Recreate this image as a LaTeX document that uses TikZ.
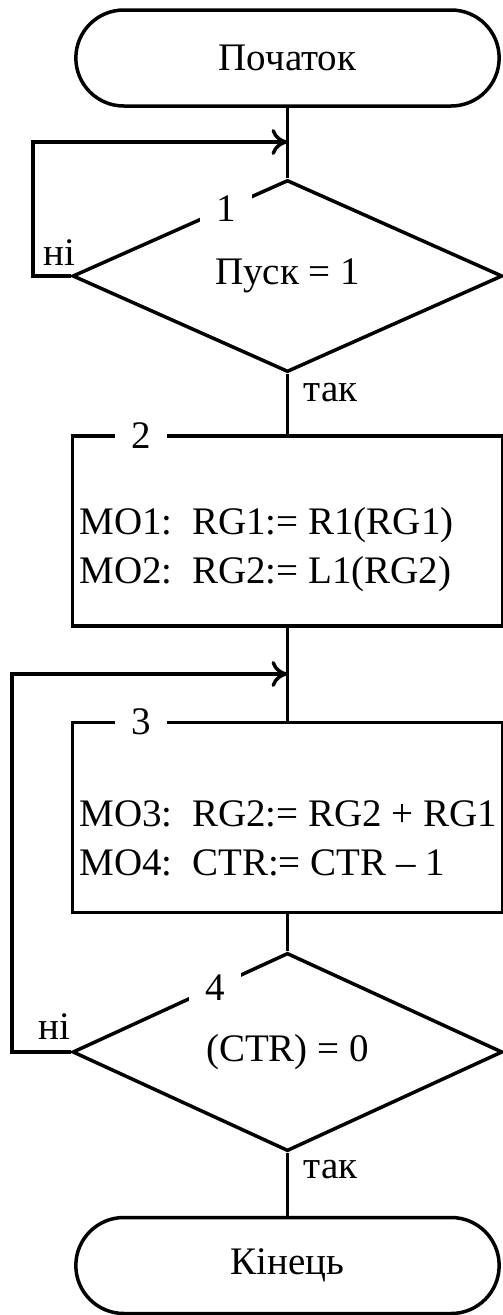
\documentclass[tikz,border=0pt]{standalone}
\usepackage{fontspec}
\setmainfont{Liberation Serif}
\usetikzlibrary{shapes.geometric, shapes.misc, arrows.meta}

\tikzset{
  term/.style={draw, rounded rectangle, minimum width=430pt, minimum height=96pt, line width=3.5pt},
  cond/.style={draw, diamond, minimum width=430pt, minimum height=192pt, inner sep=0pt, line width=3.5pt},
  opbox/.style={draw, rectangle, minimum width=430pt, minimum height=190pt, line width=3.5pt},
  num/.style={fill=white, inner xsep=16pt, inner ysep=2pt},
  line/.style={line width=3.5pt},
  arr/.style={line width=3.5pt, -{To[length=16pt,width=26pt]}},
}

\begin{document}
\begin{tikzpicture}[x=1pt, y=-1pt, font=\fontsize{39}{49}\selectfont]
\useasboundingbox (0,0) rectangle (503,1315);
% blocks
\node[term] (start) at (287.5,58) {Початок};
\node[cond] (d1) at (287.5,276) {Пуск = 1};
\node[opbox] (b2) at (287.5,531) {};
\node[opbox] (b3) at (287.5,817.5) {};
\node[cond] (d4) at (287.5,1052) {(CTR) = 0};
\node[term] (stop) at (287.5,1265.5) {Кінець};
% texts in the boxes
\node[anchor=west, align=left] (t2) at (76,550) {МО1:\ \ RG1:= R1(RG1)\\МО2:\ \ RG2:= L1(RG2)};
\node[anchor=west, align=left] (t3) at (76,838) {МО3:\ \ RG2:= RG2 + RG1\\МО4:\ \ CTR:= CTR -- 1};
% main flow
\draw[line] (start.south) -- (d1.north);
\draw[line] (d1.south) -- (b2.north);
\draw[line] (b2.south) -- (b3.north);
\draw[line] (b3.south) -- (d4.north);
\draw[line] (d4.south) -- (stop.north);
% loops back
\coordinate (j1) at (287.5,142);
\coordinate (l1) at (33,142);
\draw[arr] (d1.west) -| (l1) -- (j1);
\coordinate (j2) at (287.5,674);
\coordinate (l2) at (12,674);
\draw[arr] (d4.west) -| (l2) -- (j2);
% block numbers
\node[num] (n1) at (226,209) {1};
\node[num] (n2) at (141,436) {2};
\node[num] (n3) at (141,722) {3};
\node[num] (n4) at (215,988) {4};
% branch labels
\node (no1) at (59,253) {ні};
\node[anchor=west] (yes1) at (300,393) {так};
\node (no4) at (54,1027) {ні};
\node[anchor=west] (yes4) at (300,1170) {так};
\end{tikzpicture}
\end{document}
